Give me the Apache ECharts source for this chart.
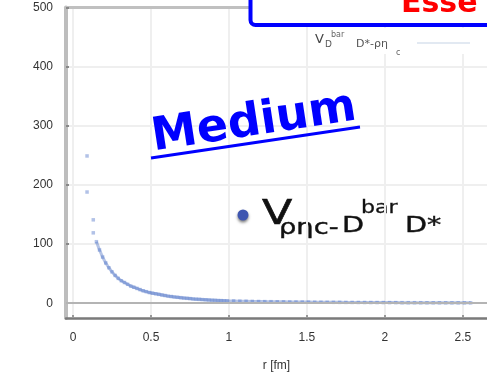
<!DOCTYPE html>
<html><head><meta charset="utf-8">
<script src="https://cdn.jsdelivr.net/npm/echarts@6/dist/echarts.min.js"></script>
<style>html,body{margin:0;padding:0;background:#fff}#c{width:487px;height:382px}</style>
</head><body><div id="c"></div>
<script>
// isolated points near the origin
const rEarly = [0.09, 0.09, 0.13, 0.13];
const vEarly = [249, 188, 141, 119];
// main decaying part
const rMain = [0.15,0.17,0.19,0.21,0.23,0.25,0.27,0.29,0.31,0.33,0.35,0.37,0.39,0.41,0.43,0.45,0.47,0.49,0.51,0.53,0.55,0.57,0.59,0.61,0.63,0.65,0.67,0.69,0.71,0.73,0.75,0.77,0.79,0.81,0.83,0.85,0.87,0.89,0.91,0.93,0.95,0.97,0.99];
const vMain = [104,90,78,68,60,53,47,42,38,35,32,29,27,25,23,21,19.5,18,17,16,15,14,13,12,11.3,10.6,10,9.4,8.8,8.3,7.8,7.3,6.9,6.5,6.1,5.8,5.5,5.2,4.9,4.6,4.4,4.2,4.0];
// flat tail
const rTail = [1.03,1.07,1.11,1.15,1.19,1.23,1.27,1.31,1.35,1.39,1.43,1.47,1.51,1.55,1.59,1.63,1.67,1.71,1.75,1.79,1.83,1.87,1.91,1.95,1.99,2.03,2.07,2.11,2.15,2.19,2.23,2.27,2.31,2.35,2.39,2.43,2.47,2.51,2.55];
const vTail = [3.8,3.5,3.3,3.1,2.9,2.7,2.6,2.4,2.3,2.2,2.1,2.0,1.9,1.8,1.7,1.6,1.5,1.45,1.4,1.35,1.3,1.25,1.2,1.15,1.1,1.05,1.0,0.95,0.9,0.88,0.85,0.82,0.8,0.78,0.75,0.72,0.7,0.68,0.65];
// axis ticks
const xTicks = [0, 0.5, 1, 1.5, 2, 2.5];
const yTicks = [0, 100, 200, 300, 400, 500];

const zip = (a, b) => a.map((x, i) => [x, b[i]]);
const curve = zip(rMain, vMain).concat(zip(rTail, vTail));
const allPts = zip(rEarly, vEarly).concat(curve);

const lab = {fontFamily: 'Liberation Sans, Arial, sans-serif', fontSize: 12, color: '#333'};
const chart = echarts.init(document.getElementById('c'), null, {renderer: 'canvas'});
chart.setOption({
  animation: false,
  backgroundColor: '#fff',
  grid: {left: 66, right: 0, top: 7.5, bottom: 64, containLabel: false},
  xAxis: [{
    type: 'value', min: -0.045, max: 2.655, position: 'bottom',
    axisLine: {show: true, onZero: false, lineStyle: {color: '#7a7a7a', width: 2.5}},
    axisTick: {show: true, inside: true, length: 3, customValues: xTicks, lineStyle: {color: '#999', width: 2}},
    axisLabel: Object.assign({customValues: xTicks, margin: 14}, lab),
    splitLine: {show: true, lineStyle: {color: '#efefef', width: 2}},
    name: 'r [fm]', nameLocation: 'middle', nameGap: 42,
    nameTextStyle: Object.assign({}, lab)
  }, {
    type: 'value', min: -0.045, max: 2.655, position: 'top',
    axisLine: {show: true, onZero: false, lineStyle: {color: '#c0c0c0', width: 3}},
    axisTick: {show: false}, axisLabel: {show: false}, splitLine: {show: false}
  }],
  yAxis: {
    type: 'value', min: -25, max: 500,
    axisLine: {show: true, onZero: false, lineStyle: {color: '#bdbdbd', width: 4}},
    axisTick: {show: true, inside: true, length: 3, customValues: yTicks, lineStyle: {color: '#888', width: 2}},
    axisLabel: Object.assign({customValues: yTicks, margin: 13}, lab),
    splitLine: {show: true, lineStyle: {color: '#efefef', width: 2}}
  },
  series: [{
    type: 'line', data: curve, showSymbol: false, z: 1,
    lineStyle: {color: 'rgba(90,125,200,0.45)', width: 3},
    markLine: {silent: true, symbol: ['none', 'none'], label: {show: false},
      lineStyle: {color: '#b4b4b4', width: 2, type: 'solid'}, data: [{yAxis: 0}]}
  }, {
    type: 'scatter', data: allPts, symbol: 'rect', symbolSize: 3.5, z: 2,
    itemStyle: {color: 'rgba(80,115,200,0.55)'}
  }],
  graphic: [
    // top blue box
    {type: 'rect', shape: {x: 250.5, y: -30, width: 300, height: 55, r: 5}, z: 100,
      style: {fill: '#fff', stroke: '#0000ff', lineWidth: 4}},
    {type: 'text', x: 401, y: 13 - 0.3 * 30, z: 101,
      style: {text: 'Esse', font: 'bold 30px "DejaVu Sans", sans-serif', fill: '#ff0000', verticalAlign: 'middle'}},
    // small inner legend background
    {type: 'rect', shape: {x: 372, y: 28, width: 120, height: 26}, z: 50, style: {fill: '#fff'}},
    {type: 'line', shape: {x1: 417, y1: 43, x2: 470, y2: 43}, z: 51, style: {stroke: '#e2e9f2', lineWidth: 2}},
    {type: 'text', x: 315, y: 46, z: 52, style: {text: 'V', font: '13px "DejaVu Sans", sans-serif', fill: '#444', verticalAlign: 'bottom'}},
    {type: 'text', x: 325, y: 49, z: 52, style: {text: 'D', font: '9px "DejaVu Sans", sans-serif', fill: '#555', verticalAlign: 'bottom'}},
    {type: 'text', x: 331, y: 39, z: 52, style: {text: 'bar', font: '8px "DejaVu Sans", sans-serif', fill: '#666', verticalAlign: 'bottom'}},
    {type: 'text', x: 356, y: 50, z: 52, style: {text: 'D*-ρη', font: '11px "DejaVu Sans", sans-serif', fill: '#555', verticalAlign: 'bottom'}},
    {type: 'text', x: 396, y: 57, z: 52, style: {text: 'c', font: '8px "DejaVu Sans", sans-serif', fill: '#666', verticalAlign: 'bottom'}},
    // Medium
    {type: 'text', x: 254, y: 123, rotation: 0.152, z: 60,
      style: {text: 'Medium', font: 'bold 46px "DejaVu Sans", sans-serif', fill: '#0000ff', align: 'center', verticalAlign: 'middle'}},
    {type: 'line', shape: {x1: 151, y1: 158, x2: 360, y2: 127}, z: 60, style: {stroke: '#0000ff', lineWidth: 3}},
    // legend V_{ρηc-D^bar D*}
    {type: 'circle', shape: {cx: 243, cy: 215, r: 5.5}, z: 60,
      style: {fill: '#3f56b0', shadowColor: 'rgba(0,0,0,0.5)', shadowBlur: 3, shadowOffsetY: 2}},
    {type: 'group', x: 262, y: 0, scaleX: 1.3, z: 60, children: [
      {type: 'text', x: 0, y: 225 - 0.3 * 34, style: {text: 'V', font: '34px "DejaVu Sans", sans-serif', fill: '#111', stroke: '#111', lineWidth: 0.6, verticalAlign: 'middle'}},
      {type: 'text', x: (279 - 262) / 1.3, y: 235 - 0.3 * 21, style: {text: 'ρηc-', font: '21px "DejaVu Sans", sans-serif', fill: '#111', stroke: '#111', lineWidth: 0.4, verticalAlign: 'middle'}},
      {type: 'text', x: (342 - 262) / 1.3, y: 233 - 0.3 * 22, style: {text: 'D', font: '22px "DejaVu Sans", sans-serif', fill: '#111', stroke: '#111', lineWidth: 0.4, verticalAlign: 'middle'}},
      {type: 'text', x: (361 - 262) / 1.3, y: 214 - 0.3 * 17, style: {text: 'bar', font: '17px "DejaVu Sans", sans-serif', fill: '#111', stroke: '#111', lineWidth: 0.3, verticalAlign: 'middle'}},
      {type: 'text', x: (405 - 262) / 1.3, y: 233 - 0.3 * 22, style: {text: 'D*', font: '22px "DejaVu Sans", sans-serif', fill: '#111', stroke: '#111', lineWidth: 0.4, verticalAlign: 'middle'}}
    ]}
  ]
});
</script></body></html>
